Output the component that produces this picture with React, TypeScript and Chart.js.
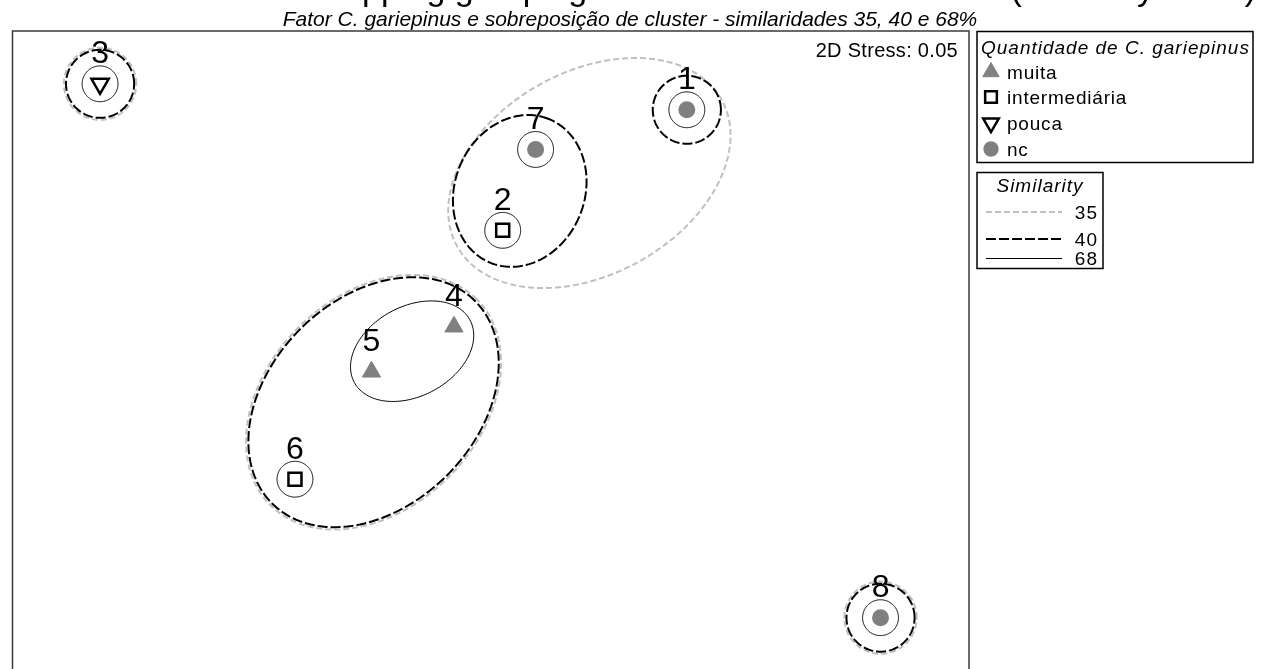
import React, { useEffect, useRef } from 'react';
import { Chart, registerables } from 'chart.js';
import { drawPoint } from 'chart.js/helpers';

Chart.register(...registerables);

// ---------- text ----------
const titleText = 'Overlapping grouping of the stations and clusters (similarity index)';
const subtitleText = 'Fator C. gariepinus e sobreposição de cluster - similaridades 35, 40 e 68%';
const stressText = '2D Stress: 0.05';

// ---------- samples (MDS coordinates) ----------
const sampleLabels = ['1', '2', '3', '4', '5', '6', '7', '8'];
const mdsX = [0.656, 0.04, -1.307, -0.123, -0.399, -0.655, 0.15, 1.304];
const mdsY = [0.796, 0.392, 0.883, 0.069, -0.082, -0.442, 0.663, -0.906];
const sampleQuantity = ['nc', 'intermediária', 'pouca', 'muita', 'muita', 'intermediária', 'nc', 'nc'];

// ---------- legends ----------
const quantityLegendTitle = 'Quantidade de C. gariepinus';
const quantityCategories = ['muita', 'intermediária', 'pouca', 'nc'];
const similarityLegendTitle = 'Similarity';
const similarityLevels = [35, 40, 68];

// ---------- cluster contours (similarity level, centre, semi-axes, rotation in degrees) ----------
const contourLevel = [35, 35, 35, 35, 40, 40, 40, 40, 40, 68, 68, 68, 68, 68, 68, 68];
const contourCx = [-1.307, 1.304, 0.33, -0.392, 0.656, -1.307, 1.304, 0.097, -0.392, 0.656, 0.04, -1.307, -0.655, 0.15, 1.304, -0.263];
const contourCy = [0.883, -0.906, 0.584, -0.184, 0.796, 0.883, -0.906, 0.524, -0.184, 0.796, 0.392, 0.883, -0.442, 0.663, -0.906, -0.013];
const contourA = [0.121, 0.121, 0.506, 0.488, 0.114, 0.114, 0.114, 0.26, 0.48, 0.06, 0.06, 0.06, 0.06, 0.06, 0.06, 0.22];
const contourB = [0.121, 0.121, 0.34, 0.355, 0.114, 0.114, 0.114, 0.217, 0.347, 0.06, 0.06, 0.06, 0.06, 0.06, 0.06, 0.15];
const contourAngle = [0, 0, 29, 45, 0, 0, 0, 68, 45, 0, 0, 0, 0, 0, 0, 28.5];

// ---------- styles ----------
const FONT = '"Liberation Sans", Arial, sans-serif';
const markerStyles: Record<string, any> = {
  muita: { pointStyle: 'triangle', rotation: 0, radius: 10.5, fill: '#808080', stroke: '#808080', borderWidth: 1 },
  'intermediária': { pointStyle: 'rect', rotation: 0, radius: 9.2, fill: 'rgba(0,0,0,0)', stroke: '#000000', borderWidth: 2.5 },
  pouca: { pointStyle: 'triangle', rotation: 180, radius: 10, fill: 'rgba(0,0,0,0)', stroke: '#000000', borderWidth: 2.5 },
  nc: { pointStyle: 'circle', rotation: 0, radius: 8.5, fill: '#808080', stroke: '#808080', borderWidth: 0 },
};
const levelStyles: Record<number, any> = {
  35: { color: '#c0c0c0', width: 2, dash: [6, 3] },
  40: { color: '#000000', width: 2, dash: [10, 3] },
  68: { color: '#000000', width: 1, dash: [] },
};

const contourPlugin = {
  id: 'contours',
  beforeDatasetsDraw(chart: any) {
    const { ctx, scales } = chart;
    const xs = scales.x;
    const ys = scales.y;
    const order = [35, 40, 68];
    ctx.save();
    for (const lvl of order) {
      const st = levelStyles[lvl];
      for (let i = 0; i < contourLevel.length; i++) {
        if (contourLevel[i] !== lvl) continue;
        const phi = (contourAngle[i] * Math.PI) / 180;
        ctx.beginPath();
        const n = 180;
        for (let k = 0; k <= n; k++) {
          const t = (k / n) * Math.PI * 2;
          const dx = contourA[i] * Math.cos(t);
          const dy = contourB[i] * Math.sin(t);
          const vx = contourCx[i] + dx * Math.cos(phi) - dy * Math.sin(phi);
          const vy = contourCy[i] + dx * Math.sin(phi) + dy * Math.cos(phi);
          const px = xs.getPixelForValue(vx);
          const py = ys.getPixelForValue(vy);
          if (k === 0) ctx.moveTo(px, py);
          else ctx.lineTo(px, py);
        }
        ctx.closePath();
        ctx.strokeStyle = st.color;
        ctx.lineWidth = st.width;
        ctx.setLineDash(st.dash);
        ctx.stroke();
      }
    }
    ctx.restore();
  },
};

const decorPlugin = {
  id: 'decor',
  afterDatasetsDraw(chart: any) {
    const { ctx, scales, chartArea } = chart;
    ctx.save();
    ctx.textBaseline = 'alphabetic';
    // sample labels
    ctx.font = `32px ${FONT}`;
    ctx.fillStyle = '#000';
    ctx.textAlign = 'center';
    for (let i = 0; i < sampleLabels.length; i++) {
      const px = scales.x.getPixelForValue(mdsX[i]);
      const py = scales.y.getPixelForValue(mdsY[i]);
      ctx.fillText(sampleLabels[i], px, py - 20.5);
    }
    // plot frame
    ctx.strokeStyle = '#3a3a3a';
    ctx.lineWidth = 1.5;
    ctx.setLineDash([]);
    ctx.strokeRect(chartArea.left, chartArea.top, chartArea.right - chartArea.left, chartArea.bottom - chartArea.top);

    // titles (main title mostly above the visible page)
    ctx.fillStyle = '#000';
    ctx.font = `34px ${FONT}`;
    ctx.textAlign = 'right';
    ctx.fillText(titleText, 1256, 0);
    ctx.font = `italic 21px ${FONT}`;
    ctx.textAlign = 'center';
    ctx.fillText(subtitleText, 630, 25.5);

    // stress
    (ctx as any).letterSpacing = '0.3px';
    ctx.font = `20px ${FONT}`;
    ctx.textAlign = 'right';
    ctx.fillText(stressText, 958, 57);

    // quantity legend
    (ctx as any).letterSpacing = '1px';
    ctx.strokeStyle = '#000';
    ctx.lineWidth = 1.5;
    ctx.strokeRect(977, 31.5, 276, 131);
    ctx.font = `italic 19px ${FONT}`;
    ctx.textAlign = 'left';
    ctx.fillText(quantityLegendTitle, 981, 54);
    const rowY = [72, 97, 123, 149];
    ctx.font = `19px ${FONT}`;
    (ctx as any).letterSpacing = '0.8px';
    quantityCategories.forEach((cat, i) => {
      const ms = markerStyles[cat];
      ctx.fillStyle = ms.fill;
      ctx.strokeStyle = ms.stroke;
      ctx.lineWidth = ms.borderWidth;
      drawPoint(ctx, { pointStyle: ms.pointStyle, rotation: ms.rotation, radius: ms.radius * 0.9, borderWidth: ms.borderWidth }, 991, rowY[i]);
      ctx.fillStyle = '#000';
      ctx.fillText(cat, 1007, rowY[i] + 7);
    });

    // similarity legend
    ctx.strokeStyle = '#000';
    ctx.lineWidth = 1.5;
    ctx.setLineDash([]);
    ctx.strokeRect(977, 172.5, 126, 96);
    (ctx as any).letterSpacing = '1px';
    ctx.font = `italic 19px ${FONT}`;
    ctx.textAlign = 'center';
    ctx.fillStyle = '#000';
    ctx.fillText(similarityLegendTitle, 1040, 192);
    const simY = [212, 239, 258];
    ctx.font = `19px ${FONT}`;
    similarityLevels.forEach((lvl, i) => {
      const st = levelStyles[lvl];
      const ly = st.width % 2 === 1 ? simY[i] + 0.5 : simY[i];
      ctx.beginPath();
      ctx.moveTo(986, ly);
      ctx.lineTo(1062, ly);
      ctx.strokeStyle = st.color;
      ctx.lineWidth = st.width;
      ctx.setLineDash(st.dash);
      ctx.stroke();
      ctx.setLineDash([]);
      ctx.textAlign = 'right';
      ctx.fillStyle = '#000';
      ctx.fillText(String(lvl), 1098, simY[i] + 7);
    });
    ctx.restore();
  },
};

export default function App() {
  const canvasRef = useRef<HTMLCanvasElement | null>(null);

  useEffect(() => {
    const canvas = canvasRef.current;
    if (!canvas) return;
    const datasets = quantityCategories.map((cat) => {
      const ms = markerStyles[cat];
      const pts = sampleLabels
        .map((_, i) => i)
        .filter((i) => sampleQuantity[i] === cat)
        .map((i) => ({ x: mdsX[i], y: mdsY[i] }));
      return {
        label: cat,
        data: pts,
        pointStyle: ms.pointStyle,
        rotation: ms.rotation,
        pointRadius: ms.radius,
        pointBackgroundColor: ms.fill,
        pointBorderColor: ms.stroke,
        pointBorderWidth: ms.borderWidth,
        showLine: false,
        clip: false as any,
      };
    });
    const chart = new Chart(canvas, {
      type: 'scatter',
      data: { datasets },
      options: {
        animation: false,
        responsive: false,
        maintainAspectRatio: false,
        devicePixelRatio: 1,
        events: [],
        layout: { padding: { left: 7, top: 31, right: 295, bottom: 10 } },
        scales: {
          x: { type: 'linear', display: false, min: -1.6, max: 1.6 },
          y: { type: 'linear', display: false, min: -1.14, max: 1.06 },
        },
        plugins: {
          legend: { display: false },
          tooltip: { enabled: false },
          title: { display: false },
        },
      },
      plugins: [contourPlugin, decorPlugin],
    });
    return () => chart.destroy();
  }, []);

  return (
    <div style={{ position: 'fixed', left: 0, top: 0, width: 1264, height: 700, background: '#fff' }}>
      <canvas ref={canvasRef} width={1264} height={700} style={{ display: 'block' }} />
    </div>
  );
}
